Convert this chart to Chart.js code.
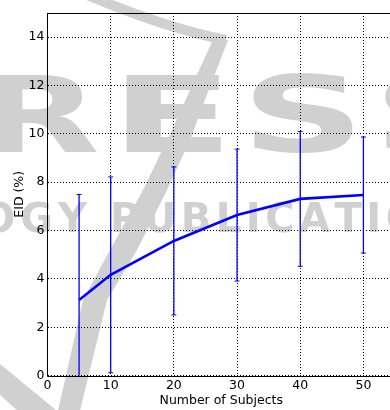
<!DOCTYPE html>
<html><head><meta charset="utf-8">
<script src="https://cdn.jsdelivr.net/npm/chart.js@4/dist/chart.umd.min.js"></script>
<style>
html,body{margin:0;padding:0;overflow:hidden;background:#fff}
#wrap{width:390px;height:410px;overflow:hidden;position:relative}
canvas{display:block}
</style></head>
<body><div id="wrap"><canvas id="c" width="400" height="410"></canvas></div>
<script>
const subjects = [5, 10, 20, 30, 40, 50];
const eidMean  = [3.13, 4.17, 5.57, 6.64, 7.31, 7.47];
const eidErr   = [4.36, 4.05, 3.06, 2.73, 2.79, 2.40];
const xTicks = [0, 10, 20, 30, 40, 50];
const yTicks = [0, 2, 4, 6, 8, 10, 12, 14];
const xLabel = 'Number of Subjects';
const yLabel = 'EID (%)';
const watermarkBig = ['R', 'E', 'S', 'S'];
const watermarkSmallLeft = 'LOGY';
const watermarkSmallRight = 'PUBLICATIONS';

const FONT = 'DejaVu Sans';
const WM = '#d0d0d0';

function letterStretched(ctx, ch, x, y, w) {
  const w0 = ctx.measureText(ch).width;
  ctx.save(); ctx.translate(x, y); ctx.scale(w / w0, 1); ctx.fillText(ch, 0, 0); ctx.restore();
}
function spaced(ctx, text, x, y, sx, sp, alignRight) {
  let total = 0;
  for (const ch of text) total += ctx.measureText(ch).width * sx + sp;
  let cx = alignRight ? x - total : x;
  for (const ch of text) {
    ctx.save(); ctx.translate(cx, y); ctx.scale(sx, 1); ctx.fillText(ch, 0, 0); ctx.restore();
    cx += ctx.measureText(ch).width * sx + sp;
  }
}

const watermark = {
  id: 'watermark',
  beforeDraw(chart) {
    const ctx = chart.ctx;
    ctx.save();
    ctx.fillStyle = '#fff';
    ctx.fillRect(0, 0, chart.width, chart.height);
    ctx.fillStyle = WM; ctx.strokeStyle = WM;
    // swoosh
    ctx.beginPath();
    ctx.moveTo(57, 415); ctx.lineTo(83, 300); ctx.lineTo(110, 250); ctx.lineTo(143, 190);
    ctx.lineTo(172, 130); ctx.lineTo(200, 68); ctx.lineTo(213, 40);
    ctx.lineTo(228, 40); ctx.lineTo(205, 100); ctx.lineTo(190, 140); ctx.lineTo(167, 190);
    ctx.lineTo(137, 250); ctx.lineTo(107, 300); ctx.lineTo(79, 415); ctx.closePath(); ctx.fill();
    ctx.beginPath();
    ctx.moveTo(-5, 360); ctx.lineTo(62, 415); ctx.lineTo(22, 415); ctx.lineTo(-5, 390); ctx.closePath(); ctx.fill();
    ctx.beginPath(); ctx.lineWidth = 10;
    ctx.moveTo(85, -6); ctx.quadraticCurveTo(165, 28, 226, 40); ctx.stroke();
    // big letters
    ctx.font = 'bold 106px "' + FONT + '"';
    ctx.textBaseline = 'alphabetic';
    const bx = [[-22, 122], [110, 124], [241, 124], [373, 124]];
    watermarkBig.forEach((ch, i) => letterStretched(ctx, ch, bx[i][0], 152, bx[i][1]));
    // small line
    ctx.font = 'bold 40px "' + FONT + '"';
    spaced(ctx, watermarkSmallRight, 110, 232, 1.0, 4.5, false);
    spaced(ctx, watermarkSmallLeft, 92, 232, 1.0, 5, true);
    ctx.restore();
  },
  afterDraw(chart) {
    const a = chart.chartArea, ctx = chart.ctx;
    const l = Math.round(a.left - 0.5) + 0.5, t = Math.round(a.top) + 0.5, b = Math.round(a.bottom) + 0.5;
    ctx.save(); ctx.strokeStyle = '#000'; ctx.lineWidth = 1; ctx.setLineDash([]);
    ctx.beginPath();
    ctx.moveTo(a.right, t); ctx.lineTo(l, t); ctx.lineTo(l, b); ctx.lineTo(a.right, b);
    ctx.stroke(); ctx.restore();
  }
};

const meanData = subjects.map((x, i) => ({ x, y: eidMean[i] }));
const errData = [];
subjects.forEach((x, i) => {
  errData.push({ x, y: eidMean[i] - eidErr[i] });
  errData.push({ x, y: eidMean[i] + eidErr[i] });
  errData.push({ x, y: null });
});

new Chart(document.getElementById('c'), {
  type: 'line',
  data: {
    datasets: [
      { data: meanData, borderColor: '#0000ff', borderWidth: 2.6, pointRadius: 0, tension: 0, fill: false, order: 0 },
      { data: errData, borderColor: '#0000ff', borderWidth: 1.3, pointStyle: 'line', pointRadius: 2.5,
        pointBorderColor: '#0000ff', pointBorderWidth: 1, spanGaps: false, fill: false, order: 1 }
    ]
  },
  options: {
    responsive: false, animation: false, devicePixelRatio: 1,
    layout: { padding: { top: 13, right: 0.5, left: 0, bottom: 0 } },
    plugins: { legend: { display: false }, tooltip: { enabled: false } },
    scales: {
      x: {
        type: 'linear', min: 0, max: 55,
        afterBuildTicks: s => { s.ticks = xTicks.map(v => ({ value: v })); },
        afterFit: s => { s.height = 34.4; },
        grid: { color: '#000', lineWidth: 1, drawTicks: false },
        border: { display: false, color: '#000', width: 1, dash: [1, 2] },
        ticks: { color: '#000', font: { family: FONT, size: 12.5 }, padding: 3, maxRotation: 0, autoSkip: false },
        title: { display: true, text: xLabel, color: '#000', font: { family: FONT, size: 12.5 }, padding: { top: 0, bottom: 2 } }
      },
      y: {
        min: 0, max: 15,
        afterBuildTicks: s => { s.ticks = yTicks.map(v => ({ value: v })); },
        afterFit: s => { s.width = 47.5; },
        grid: { color: '#000', lineWidth: 1, drawTicks: false },
        border: { display: false, color: '#000', width: 1, dash: [1, 2] },
        ticks: { color: '#000', font: { family: FONT, size: 12.5 }, padding: 3, autoSkip: false },
        title: { display: true, text: yLabel, color: '#000', font: { family: FONT, size: 12.5 }, padding: { top: 12, bottom: 0 } }
      }
    }
  },
  plugins: [watermark]
});
</script>
</body></html>
